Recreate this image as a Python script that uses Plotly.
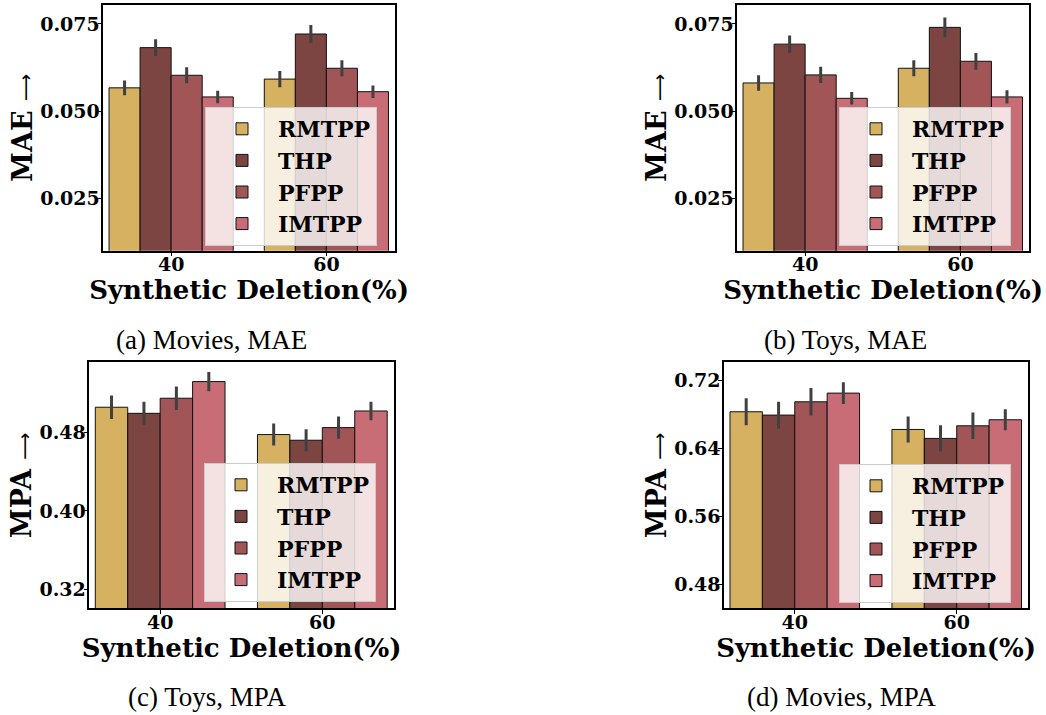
import plotly.graph_objects as go

W, H = 1046, 715

methods = ["RMTPP", "THP", "PFPP", "IMTPP"]
colors = ["#D5B161", "#7C4542", "#A15556", "#C86D75"]
deletion = ["40", "60"]

# rows: methods, columns: deletion 40 / 60
movies_mae = [[0.0567, 0.0592], [0.0682, 0.0721], [0.0603, 0.0623], [0.0541, 0.0556]]
movies_mae_err = [[0.0021, 0.0023], [0.0024, 0.0026], [0.0023, 0.0023], [0.0018, 0.0018]]
toys_mae = [[0.0581, 0.0623], [0.0692, 0.0740], [0.0604, 0.0643], [0.0537, 0.0541]]
toys_mae_err = [[0.0022, 0.0023], [0.0025, 0.0028], [0.0023, 0.0024], [0.0018, 0.0019]]
toys_mpa = [[0.5059, 0.4780], [0.4997, 0.4722], [0.5151, 0.4851], [0.5321, 0.5021]]
toys_mpa_err = [[0.0119, 0.0112], [0.0117, 0.0112], [0.0119, 0.0114], [0.0099, 0.0095]]
movies_mpa = [[0.6827, 0.6619], [0.6788, 0.6514], [0.6944, 0.6662], [0.7046, 0.6733]]
movies_mpa_err = [[0.0159, 0.0153], [0.0157, 0.0153], [0.0162, 0.0155], [0.0127, 0.0123]]

mae_ticks = [0.025, 0.050, 0.075]
mae_ticktext = ["0.025", "0.050", "0.075"]
toys_mpa_ticks = [0.32, 0.40, 0.48]
movies_mpa_ticks = [0.48, 0.56, 0.64, 0.72]

captions = ["(a) Movies, MAE", "(b) Toys, MAE", "(c) Toys, MPA", "(d) Movies, MPA"]

SERIF = "DejaVu Serif"
ARROW = "<span style='font-family:\"DejaVu Sans\";font-weight:normal;font-size:19px'>⟶</span>"

panels = [
    dict(data=movies_mae, err=movies_mae_err, ylabel="MAE " + ARROW, ticks=mae_ticks,
         ticktext=mae_ticktext, yrange=[0.0101, 0.0804],
         box=(103.3, 395.0, 5.0, 250.7), legend=(205, 107), cap=(211, 340)),
    dict(data=toys_mae, err=toys_mae_err, ylabel="MAE " + ARROW, ticks=mae_ticks,
         ticktext=mae_ticktext, yrange=[0.0101, 0.0804],
         box=(737.3, 1029.0, 5.0, 250.7), legend=(839, 107), cap=(845, 340)),
    dict(data=toys_mpa, err=toys_mpa_err, ylabel="MPA " + ARROW, ticks=toys_mpa_ticks,
         ticktext=["%.2f" % v for v in toys_mpa_ticks], yrange=[0.3006, 0.5518],
         box=(89.3, 394.0, 362.3, 608.3), legend=(204, 463), cap=(207, 697)),
    dict(data=movies_mpa, err=movies_mpa_err, ylabel="MPA " + ARROW, ticks=movies_mpa_ticks,
         ticktext=["%.2f" % v for v in movies_mpa_ticks], yrange=[0.4518, 0.7408],
         box=(724.0, 1028.3, 362.3, 608.3), legend=(839, 464), cap=(841, 697)),
]

fig = go.Figure()
layout = {}
annotations = []

for p_i, p in enumerate(panels):
    n = "" if p_i == 0 else str(p_i + 1)
    xa, ya = "x" + n, "y" + n
    lg = "legend" + n
    x0, x1, y0, y1 = p["box"]
    for m_i, m in enumerate(methods):
        fig.add_trace(go.Bar(
            x=deletion, y=p["data"][m_i], name=m,
            marker=dict(color=colors[m_i], line=dict(color="#111111", width=1)),
            error_y=dict(type="data", array=p["err"][m_i], color="#404040",
                         thickness=3, width=0),
            xaxis=xa, yaxis=ya, legend=lg, showlegend=True,
            offsetgroup=str(m_i),
        ))
    layout["xaxis" + n] = dict(
        domain=[x0 / W, x1 / W], anchor=ya, type="category",
        range=[-0.437, 1.442], showline=True, mirror=True, linecolor="black",
        linewidth=1.5, ticks="outside", ticklen=4, tickcolor="black",
        ticklabelstandoff=-8,
        showgrid=False, zeroline=False,
        tickfont=dict(family=SERIF, size=19, color="black", weight="bold"),
        title=dict(text="Synthetic Deletion(%)", standoff=0,
                   font=dict(family=SERIF, size=26, color="black", weight="bold")),
    )
    layout["yaxis" + n] = dict(
        domain=[1 - y1 / H, 1 - y0 / H], anchor=xa, range=p["yrange"],
        tickvals=p["ticks"], ticktext=p["ticktext"], showline=True, mirror=True,
        linecolor="black", linewidth=1.5, ticks="outside", ticklen=4,
        tickcolor="black", showgrid=False, zeroline=False,
        ticklabelstandoff=-6,
        tickfont=dict(family=SERIF, size=19, color="black", weight="bold"),
        title=dict(text=p["ylabel"], standoff=0,
                   font=dict(family=SERIF, size=27, color="black", weight="bold")),
    )
    lx, ly = p["legend"]
    layout[lg] = dict(
        x=lx / W, y=1 - ly / H, xanchor="left", yanchor="top",
        bgcolor="rgba(255,255,255,0.8)", bordercolor="#cccccc", borderwidth=1,
        font=dict(family=SERIF, size=22, color="black", weight="bold"),
        itemwidth=62, tracegroupgap=0,
    )
    cx, cy = p["cap"]
    annotations.append(dict(
        text=captions[p_i], x=cx / W, y=1 - cy / H, xref="paper", yref="paper",
        xanchor="center", yanchor="middle", showarrow=False,
        font=dict(family="Liberation Serif", size=27, color="black"),
    ))

fig.update_layout(
    width=W, height=H, margin=dict(l=0, r=0, t=0, b=0),
    paper_bgcolor="white", plot_bgcolor="white",
    barmode="group", bargap=0.2, bargroupgap=0,
    annotations=annotations, **layout,
)

fig.write_html("out.html", config={"displayModeBar": False},
               post_script="document.body.style.margin='0';")
